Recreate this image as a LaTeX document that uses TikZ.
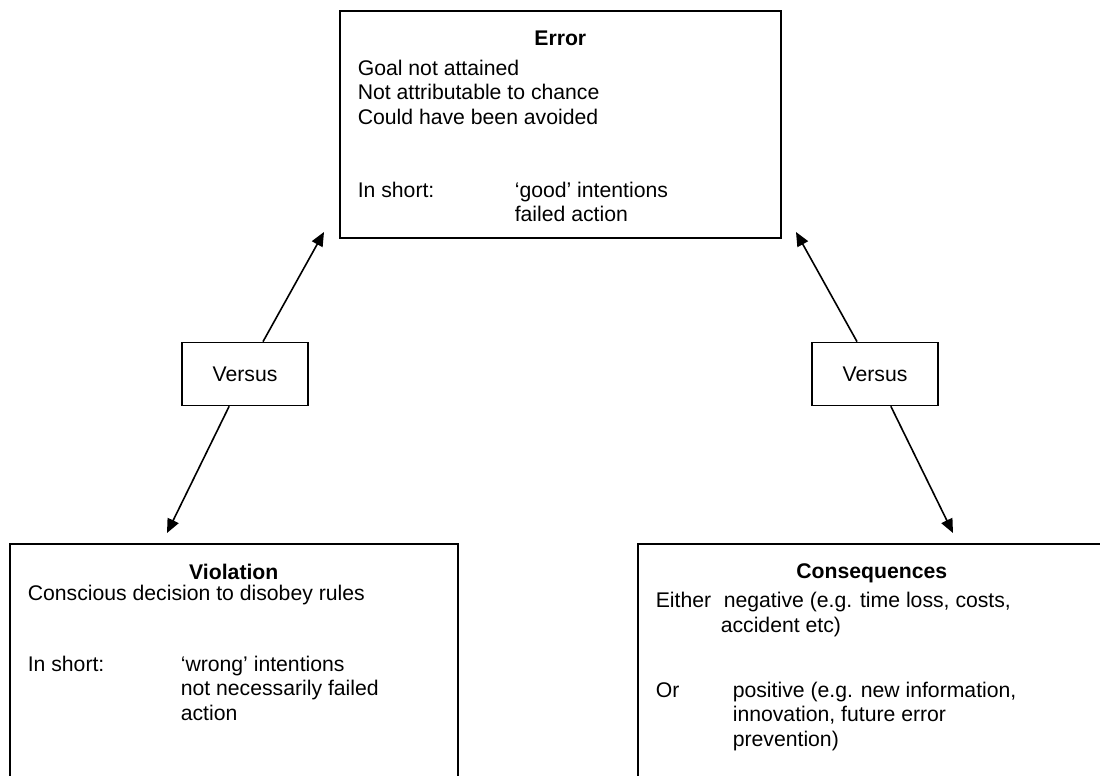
\documentclass[tikz,border=0pt]{standalone}
\usepackage{fontspec}
\setmainfont{Liberation Sans}
\usetikzlibrary{arrows.meta}

\begin{document}
\begin{tikzpicture}[x=0.5pt,y=-0.5pt,->,>={Triangle[length=7pt,width=6pt]},line width=0.8pt,
    font=\fontsize{10.6}{12.3}\selectfont,
    panel/.style={draw, rectangle, anchor=north west, inner xsep=9pt, inner ysep=10pt},
    versus/.style={draw, rectangle, minimum width=63pt, minimum height=31.5pt}]

    \useasboundingbox (0,0) rectangle (1100,776);

    \node[panel] (error) at (339,10)
    {\parbox[t][93.5pt][t]{202.5pt}{%
        \makebox[\linewidth]{\bfseries Error}\\[2.7pt]
        Goal not attained\\
        Not attributable to chance\\
        Could have been avoided\\[24pt]
        \makebox[78.5pt][l]{In short:}‘good’ intentions\\
        \hspace*{78.5pt}failed action}};

    %------------------------------------------------

    \node[versus] (versusL) at (245,374)
    { Versus };

    \node[panel] (violation) at (9,543)
    {\parbox[t][108.5pt][t]{206pt}{%
        \makebox[\linewidth]{\bfseries Violation}\\[-1.8pt]
        Conscious decision to disobey rules\\[23.2pt]
        \makebox[76.5pt][l]{In short:}‘wrong’ intentions\\
        \hspace*{76.5pt}not necessarily failed\\
        \hspace*{76.5pt}action}};

    %------------------------------------------------

    \node[versus] (versusR) at (875,374)
    { Versus };

    \node[panel] (conseq) at (637,543)
    {\parbox[t][108.5pt][t]{216pt}{%
        \makebox[\linewidth]{\bfseries Consequences}\\[2.2pt]
        \makebox[34pt][l]{Either}negative (e.g. time loss, costs,\\
        \hspace*{32.5pt}accident etc)\\[20.2pt]
        \makebox[38.5pt][l]{Or}positive (e.g. new information,\\
        \hspace*{38.5pt}innovation, future error\\
        \hspace*{38.5pt}prevention)}};

    %------------------------------------------------

    \coordinate (tipLU) at (324,232);
    \coordinate (tipLD) at (167,533);
    \coordinate (tipRU) at (796,232);
    \coordinate (tipRD) at (953,533);

    \path[]
    {
        (versusL) edge (tipLU)
        (versusL) edge (tipLD)
        (versusR) edge (tipRU)
        (versusR) edge (tipRD)
    };
\end{tikzpicture}
\end{document}
